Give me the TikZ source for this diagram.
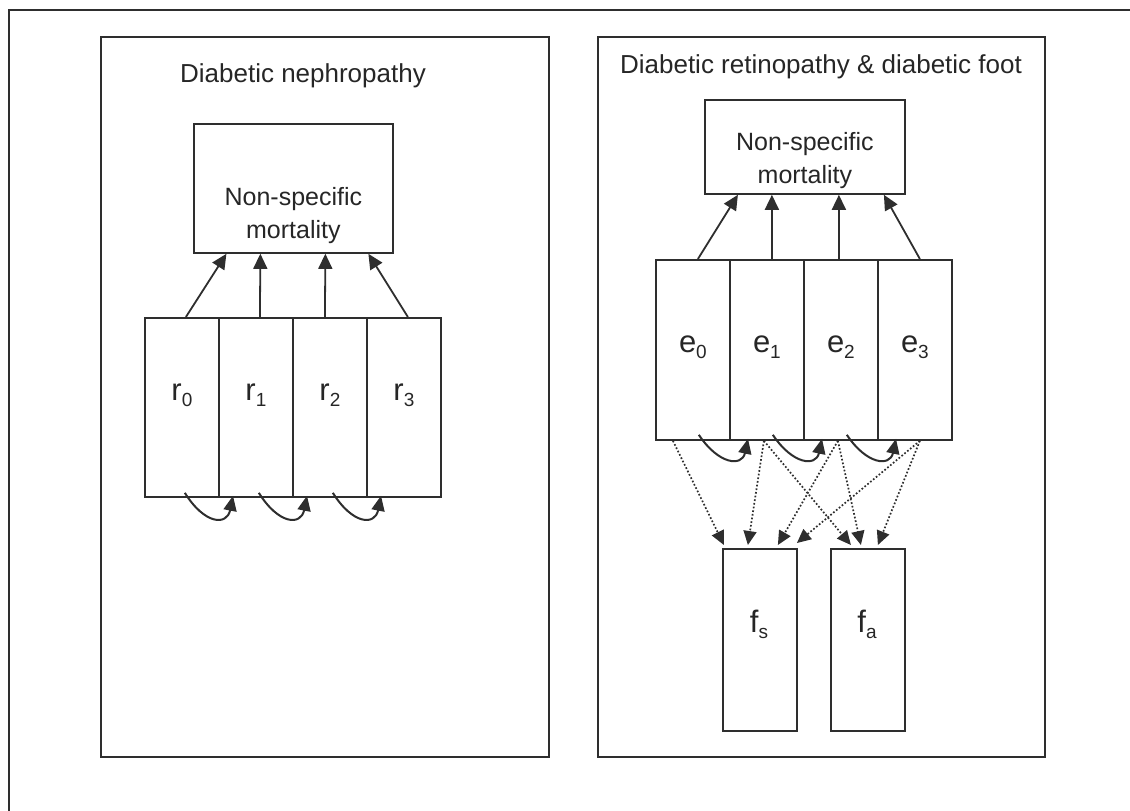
\documentclass[tikz,border=0pt]{standalone}
\usepackage{fontspec}
\setmainfont{Liberation Sans}
\usetikzlibrary{arrows.meta,calc}
\definecolor{linecol}{HTML}{2E2E2E}
\definecolor{textcol}{HTML}{262626}
\newcommand\sublbl[2]{#1\raisebox{-6pt}{\fontsize{19}{19}\selectfont #2}}
\tikzset{
  frameline/.style={draw=linecol, line width=1.6pt},
  box/.style={draw=linecol, line width=1.8pt, inner sep=0pt, anchor=north west},
  ttl/.style={text=textcol, font=\fontsize{26}{30}\selectfont, inner sep=0pt},
  mtxt/.style={text=textcol, font=\fontsize{25}{33}\selectfont, align=center, inner sep=0pt},
  lbl/.style={text=textcol, font=\fontsize{31}{31}\selectfont, inner sep=0pt},
  up/.style={draw=linecol, line width=1.8pt, -{Triangle[length=15pt,width=14pt]}},
  curv/.style={draw=linecol, line width=2pt, -{Triangle[length=15pt,width=13pt]}},
  dot/.style={draw=linecol, line width=1.7pt, dotted, -{Triangle[length=14pt,width=13pt]}}
}
\begin{document}
\begin{tikzpicture}[x=1pt,y=-1pt]
\useasboundingbox (0,0) rectangle (1130,811);
% outer frame (partly cropped)
\draw[frameline] (9,830) -- (9,10) -- (1150,10);
% panels
\node[box, minimum width=448pt, minimum height=720pt] (lp) at (100,36) {};
\node[box, minimum width=447pt, minimum height=720pt] (rp) at (597,36) {};
\node[ttl, anchor=base] (lt) at (303,82) {Diabetic nephropathy};
\node[ttl, anchor=base] (rt) at (821,73) {Diabetic retinopathy \& diabetic foot};
% left panel
\node[box, minimum width=199pt, minimum height=129pt] (lm) at (193,123) {};
\node[mtxt, anchor=base] (lmt) at ($(lm.south)+(0,-15)$) {Non-specific\\mortality};
\foreach \i/\x in {0/144,1/218,2/292,3/366}{
  \node[box, minimum width=74pt, minimum height=179pt] (r\i) at (\x,317) {};
  \node[lbl] (r\i l) at ($(r\i.center)+(0,-12)$) {\sublbl{r}{\i}};
}
\draw[up] ([xshift=4pt]r0.north) -- ([xshift=-67pt]lm.south);
\draw[up] ([xshift=4pt]r1.north) -- ([xshift=-33pt]lm.south);
\draw[up] ([xshift=-5pt]r2.north) -- ([xshift=32pt]lm.south);
\draw[up] ([xshift=4pt]r3.north) -- ([xshift=75pt]lm.south);
\foreach \a/\b in {0/1,1/2,2/3}{
  \draw[curv] ([xshift=-35pt,yshift=5pt]r\a.south east) .. controls +(20,32) and +(-6,30) .. ([xshift=15pt,yshift=2pt]r\b.south west);
}
% right panel
\node[box, minimum width=200pt, minimum height=94pt] (rm) at (704,99) {};
\node[mtxt, anchor=base] (rmt) at ($(rm.south)+(0,-11)$) {Non-specific\\mortality};
\foreach \i/\x in {0/655,1/729,2/803,3/877}{
  \node[box, minimum width=74pt, minimum height=180pt] (e\i) at (\x,259) {};
  \node[lbl] (e\i l) at ($(e\i.center)+(0,-3)$) {\sublbl{e}{\i}};
}
\draw[up] ([xshift=5pt]e0.north) -- ([xshift=-67pt]rm.south);
\draw[up] ([xshift=5pt]e1.north) -- ([xshift=-33pt]rm.south);
\draw[up] ([xshift=-2pt]e2.north) -- ([xshift=34pt]rm.south);
\draw[up] ([xshift=5pt]e3.north) -- ([xshift=79pt]rm.south);
\foreach \a/\b in {0/1,1/2,2/3}{
  \draw[curv] ([xshift=-32pt,yshift=6pt]e\a.south east) .. controls +(20,30) and +(-6,28) .. ([xshift=19pt,yshift=2pt]e\b.south west);
}
\node[box, minimum width=74pt, minimum height=182pt] (fs) at (722,548) {};
\node[box, minimum width=74pt, minimum height=182pt] (fa) at (830,548) {};
\node[lbl, anchor=base] (fsl) at (759,632) {\sublbl{f}{s}};
\node[lbl, anchor=base] (fal) at (867,632) {\sublbl{f}{a}};
% dotted arrows
\draw[dot] ([xshift=-20pt]e0.south) -- ([xshift=-36pt,yshift=3pt]fs.north);
\draw[dot] ([xshift=-3pt]e1.south) -- ([xshift=-12pt,yshift=3pt]fs.north);
\draw[dot] ([xshift=-3pt]e1.south) -- ([xshift=-17pt,yshift=3pt]fa.north);
\draw[dot] ([xshift=-3pt]e2.south) -- ([xshift=18pt,yshift=3pt]fs.north);
\draw[dot] ([xshift=-3pt]e2.south) -- ([xshift=-7pt,yshift=3pt]fa.north);
\draw[dot] ([xshift=5pt]e3.south) -- ([xshift=37pt,yshift=5pt]fs.north);
\draw[dot] ([xshift=5pt]e3.south) -- ([xshift=10pt,yshift=3pt]fa.north);
\end{tikzpicture}
\end{document}
